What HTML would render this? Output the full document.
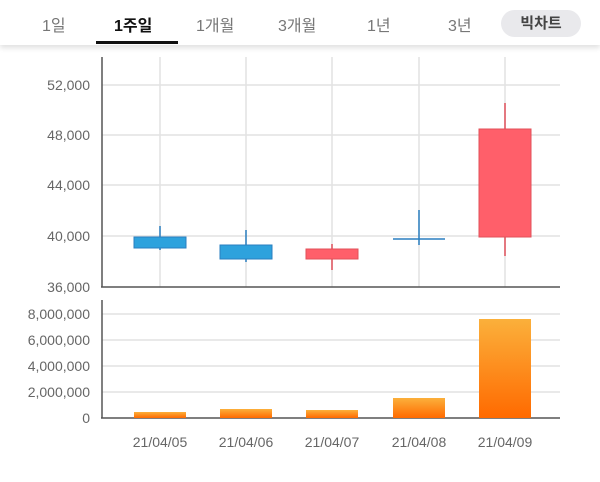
<!DOCTYPE html>
<html><head><meta charset="utf-8"><style>
body{margin:0;background:#fff;width:600px;height:482px;overflow:hidden;font-family:"Liberation Sans","Noto Sans CJK KR",sans-serif}
.tabs{position:absolute;top:0;left:0;width:600px;height:45px;background:#fff;box-shadow:0 3px 5px rgba(0,0,0,0.12)}
.t{position:absolute;top:12px;font-size:16px;color:#777}
</style></head><body>
<svg width="600" height="482" style="position:absolute;top:0;left:0" font-family="Liberation Sans, sans-serif">
<defs><linearGradient id="g" x1="0" y1="0" x2="0" y2="1"><stop offset="0" stop-color="#fbb03b"/><stop offset="1" stop-color="#ff6a00"/></linearGradient></defs>
<g stroke="#e2e2e2" stroke-width="1.5">
<line x1="102" y1="85" x2="560" y2="85"/><line x1="102" y1="135" x2="560" y2="135"/><line x1="102" y1="185" x2="560" y2="185"/><line x1="102" y1="236" x2="560" y2="236"/>
<line x1="160" y1="57" x2="160" y2="287"/><line x1="246" y1="57" x2="246" y2="287"/><line x1="332" y1="57" x2="332" y2="287"/><line x1="419" y1="57" x2="419" y2="287"/><line x1="505" y1="57" x2="505" y2="287"/>
<line x1="102" y1="314" x2="560" y2="314"/><line x1="102" y1="340" x2="560" y2="340"/><line x1="102" y1="366" x2="560" y2="366"/><line x1="102" y1="392" x2="560" y2="392"/>
</g>
<g stroke="#555" stroke-width="1.5">
<line x1="102" y1="57" x2="102" y2="287"/><line x1="101" y1="287" x2="560" y2="287"/>
<line x1="102" y1="300" x2="102" y2="418"/><line x1="101" y1="418" x2="560" y2="418"/>
</g>
<g fill="#666" font-size="14" text-anchor="end">
<text x="90" y="90">52,000</text><text x="90" y="140">48,000</text><text x="90" y="190">44,000</text><text x="90" y="241">40,000</text><text x="90" y="292">36,000</text>
<text x="90" y="319">8,000,000</text><text x="90" y="345">6,000,000</text><text x="90" y="371">4,000,000</text><text x="90" y="397">2,000,000</text><text x="90" y="423">0</text>
</g>
<g fill="#666" font-size="14" text-anchor="middle">
<text x="160" y="447">21/04/05</text><text x="246" y="447">21/04/06</text><text x="332" y="447">21/04/07</text><text x="419" y="447">21/04/08</text><text x="505" y="447">21/04/09</text>
</g>
<g stroke="#2a7fc0" stroke-width="1.5">
<line x1="160" y1="226" x2="160" y2="250"/><line x1="246" y1="230" x2="246" y2="262"/><line x1="419" y1="210" x2="419" y2="245"/><line x1="393" y1="239" x2="445" y2="239"/>
</g>
<rect x="134" y="237" width="52" height="11" fill="#2ea2dd" stroke="#2a7fc0"/>
<rect x="220" y="245" width="52" height="14" fill="#2ea2dd" stroke="#2a7fc0"/>
<g stroke="#e0505a" stroke-width="1.5"><line x1="332" y1="244" x2="332" y2="270"/><line x1="505" y1="103" x2="505" y2="256"/></g>
<rect x="306" y="249" width="52" height="10" fill="#ff5f6a" stroke="#e0505a"/>
<rect x="479" y="129" width="52" height="108" fill="#ff5f6a" stroke="#e0505a"/>
<g fill="url(#g)">
<rect x="134" y="412" width="52" height="6"/><rect x="220" y="409" width="52" height="9"/><rect x="306" y="410" width="52" height="8"/><rect x="393" y="398" width="52" height="20"/><rect x="479" y="319" width="52" height="99"/>
</g>
</svg>
<div class="tabs">
<span class="t" style="left:42px">1일</span>
<span class="t" style="left:114px;color:#111;font-weight:bold">1주일</span>
<div style="position:absolute;left:96px;top:41px;width:82px;height:3px;background:#111"></div>
<span class="t" style="left:196px">1개월</span>
<span class="t" style="left:278px">3개월</span>
<span class="t" style="left:367px">1년</span>
<span class="t" style="left:448px">3년</span>
<div style="position:absolute;left:501px;top:10px;width:80px;height:27px;border-radius:14px;background:#e9e9ec;color:#444;font-weight:bold;font-size:15px;text-align:center;line-height:27px">빅차트</div>
</div>
</body></html>
